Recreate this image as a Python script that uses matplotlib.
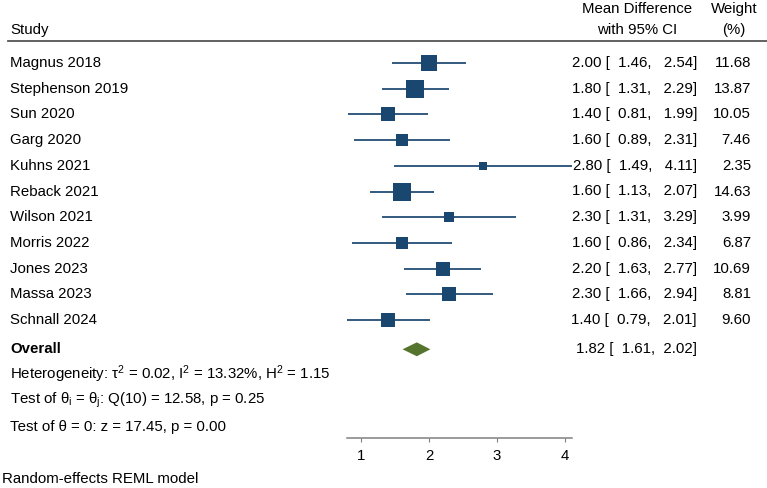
import matplotlib
matplotlib.use("Agg")
import matplotlib.pyplot as plt
import matplotlib.transforms as mtransforms
import numpy as np

plt.rcParams['font.family'] = ['Liberation Sans', 'DejaVu Sans']
plt.rcParams['mathtext.fontset'] = 'custom'
plt.rcParams['mathtext.rm'] = 'Liberation Sans'
plt.rcParams['mathtext.it'] = 'Liberation Sans:italic'

studies = ["Magnus 2018", "Stephenson 2019", "Sun 2020", "Garg 2020", "Kuhns 2021",
           "Reback 2021", "Wilson 2021", "Morris 2022", "Jones 2023", "Massa 2023",
           "Schnall 2024"]
md = [2.00, 1.80, 1.40, 1.60, 2.80, 1.60, 2.30, 1.60, 2.20, 2.30, 1.40]
lo = [1.46, 1.31, 0.81, 0.89, 1.49, 1.13, 1.31, 0.86, 1.63, 1.66, 0.79]
hi = [2.54, 2.29, 1.99, 2.31, 4.11, 2.07, 3.29, 2.34, 2.77, 2.94, 2.01]
weight = [11.68, 13.87, 10.05, 7.46, 2.35, 14.63, 3.99, 6.87, 10.69, 8.81, 9.60]
overall = (1.82, 1.61, 2.02)
xticks = [1, 2, 3, 4]
het_text = r"Heterogeneity: τ$\mathregular{^2}$ = 0.02, I$\mathregular{^2}$ = 13.32%, H$\mathregular{^2}$ = 1.15"
test1_text = r"Test of θ$\mathregular{_i}$ = θ$\mathregular{_j}$: Q(10) = 12.58, p = 0.25"
test2_text = "Test of θ = 0: z = 17.45, p = 0.00"
note_text = "Random-effects REML model"

NAVY = "#1a476f"
GREEN = "#55752f"
FS = 10.8

W, H = 767, 488
fig = plt.figure(figsize=(W / 100, H / 100), dpi=100)

row0, rstep = 63.0, 25.7
def row(pix):
    return (pix - row0) / rstep

ax_left, ax_right = 347, 572
ax_top, ax_bot = 45, 438.3
ax = fig.add_axes([ax_left / W, (H - ax_bot) / H, (ax_right - ax_left) / W, (ax_bot - ax_top) / H])
ax.set_xlim(min(lo), max(hi))
ax.set_ylim(row(ax_bot), row(ax_top))

ys = np.arange(len(studies))
for y, m, l, h, w in zip(ys, md, lo, hi, weight):
    ax.plot([l, h], [y, y], color=NAVY, lw=1.25, solid_capstyle='butt', clip_on=False)
    ax.plot([m], [y], marker='s', color=NAVY, markersize=3.3 * np.sqrt(w), markeredgewidth=0, clip_on=False)

y_ov = row(349.3)
dh = 0.27
om, ol, oh = overall
ax.fill([ol, om, oh, om], [y_ov, y_ov - dh, y_ov, y_ov + dh], color=GREEN, lw=0, clip_on=False)

for s in ['top', 'left', 'right']:
    ax.spines[s].set_visible(False)
ax.spines['bottom'].set_color('#808080')
ax.spines['bottom'].set_linewidth(1.1)
ax.set_yticks([])
ax.set_xticks(xticks)
ax.set_xticklabels([str(t) for t in xticks], fontsize=FS)
ax.tick_params(axis='x', direction='out', length=3, width=0.8, color='#808080', pad=5)
ax.patch.set_alpha(0)

tr = mtransforms.blended_transform_factory(fig.transFigure, ax.transData)
def fx(p):
    return p / W

# headers
ax.text(fx(10), row(30), "Study", transform=tr, ha='left', va='center', fontsize=FS)
ax.text(fx(637), row(9), "Mean Difference", transform=tr, ha='center', va='center', fontsize=FS)
ax.text(fx(637), row(30), "with 95% CI", transform=tr, ha='center', va='center', fontsize=FS)
ax.text(fx(734), row(9), "Weight", transform=tr, ha='center', va='center', fontsize=FS)
ax.text(fx(734), row(30), "(%)", transform=tr, ha='center', va='center', fontsize=FS)
ax.plot([fx(8), fx(767)], [row(40.7), row(40.7)], transform=tr, color='#555555', lw=1.3, clip_on=False)

for y, name, m, l, h, w in zip(ys, studies, md, lo, hi, weight):
    ax.text(fx(10), y, name, transform=tr, ha='left', va='center', fontsize=FS)
    ax.text(fx(697), y, f"{m:.2f} [{l:5.2f}, {h:5.2f}]".replace("[ ", "[  ").replace(", ", ",  "),
            transform=tr, ha='right', va='center', fontsize=FS)
    ax.text(fx(751), y, f"{w:.2f}", transform=tr, ha='right', va='center', fontsize=FS)

ax.text(fx(10), y_ov, "Overall", transform=tr, ha='left', va='center', fontsize=FS, fontweight='bold')
ax.text(fx(697), y_ov, f"{om:.2f} [  {ol:.2f},  {oh:.2f}]", transform=tr, ha='right', va='center', fontsize=FS)
ax.text(fx(10), row(374.3), het_text, transform=tr, ha='left', va='center', fontsize=FS)
ax.text(fx(10), row(400.7), test1_text, transform=tr, ha='left', va='center', fontsize=FS)
ax.text(fx(10), row(426.7), test2_text, transform=tr, ha='left', va='center', fontsize=FS)
ax.text(fx(2), row(479), note_text, transform=tr, ha='left', va='center', fontsize=FS)

fig.savefig("out.png", dpi=100)
